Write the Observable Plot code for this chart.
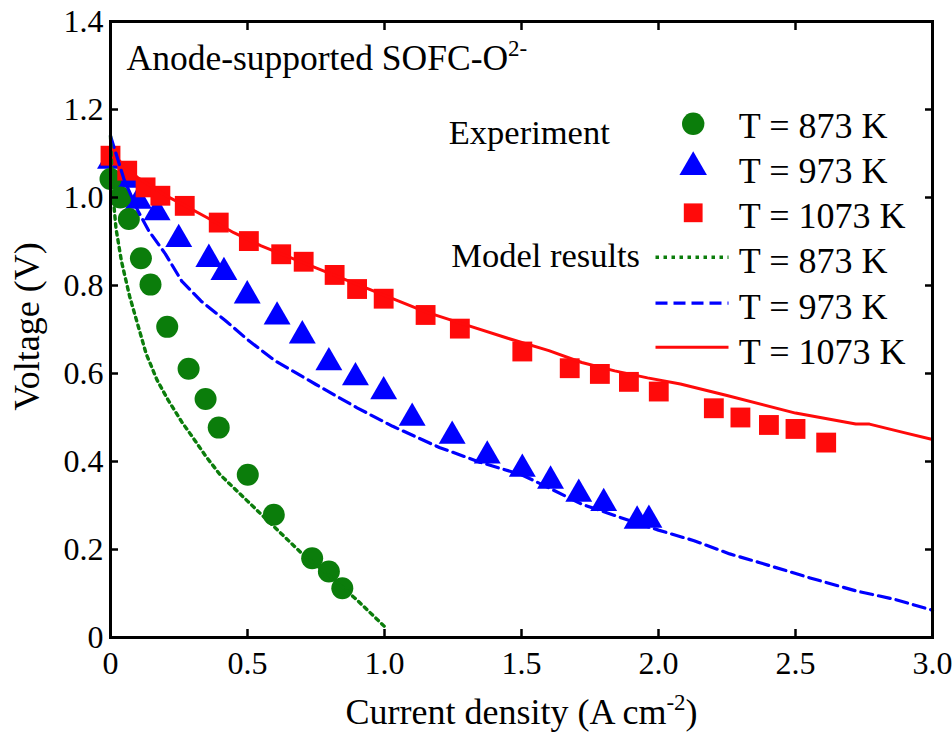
<!DOCTYPE html>
<html><head><meta charset="utf-8">
<script src="https://cdn.jsdelivr.net/npm/d3@7"></script>
<script src="https://cdn.jsdelivr.net/npm/@observablehq/plot@0.6"></script>
<style>body{margin:0;background:#fff}#chart{width:952px;height:736px}
#chart svg, #chart svg text{font-family:"Liberation Serif","Times New Roman",serif !important;}</style>
</head><body><div id="chart"></div>
<script>
// ---- data ----
const xTicks = [0, 0.5, 1.0, 1.5, 2.0, 2.5, 3.0];
const yTicks = [0, 0.2, 0.4, 0.6, 0.8, 1.0, 1.2, 1.4];
const tempLabels = ["T = 873 K", "T = 973 K", "T = 1073 K"];

// Experiment, T = 873 K
const exp873X = [0.0, 0.036, 0.067, 0.111, 0.146, 0.207, 0.285, 0.347, 0.395, 0.501, 0.596, 0.736, 0.797, 0.846];
const exp873Y = [1.042, 1.0, 0.951, 0.862, 0.802, 0.706, 0.611, 0.542, 0.477, 0.37, 0.279, 0.18, 0.15, 0.112];
// Experiment, T = 973 K
const exp973X = [0.0, 0.06, 0.102, 0.17, 0.249, 0.359, 0.414, 0.499, 0.608, 0.70, 0.797, 0.894, 0.997, 1.101, 1.247, 1.375, 1.503, 1.606, 1.709, 1.80, 1.922, 1.965];
const exp973Y = [1.083, 1.04, 0.992, 0.966, 0.905, 0.86, 0.83, 0.777, 0.729, 0.686, 0.625, 0.591, 0.559, 0.499, 0.458, 0.413, 0.383, 0.356, 0.326, 0.305, 0.265, 0.267];
// Experiment, T = 1073 K
const exp1073X = [0.0, 0.061, 0.128, 0.182, 0.271, 0.395, 0.505, 0.623, 0.705, 0.818, 0.90, 0.997, 1.15, 1.275, 1.503, 1.676, 1.786, 1.892, 2.001, 2.202, 2.299, 2.403, 2.50, 2.612];
const exp1073Y = [1.095, 1.061, 1.023, 1.004, 0.981, 0.943, 0.901, 0.871, 0.854, 0.824, 0.792, 0.770, 0.733, 0.702, 0.65, 0.612, 0.599, 0.581, 0.559, 0.521, 0.50, 0.483, 0.474, 0.443];

// Model results
const mod873X = [0, 0.005, 0.01, 0.02, 0.04, 0.07, 0.10, 0.13, 0.17, 0.21, 0.26, 0.30, 0.35, 0.40, 0.50, 0.60, 0.70, 0.80, 0.90, 1.0];
const mod873Y = [1.14, 1.06, 1.0, 0.93, 0.855, 0.775, 0.71, 0.645, 0.585, 0.54, 0.49, 0.455, 0.41, 0.37, 0.31, 0.25, 0.19, 0.14, 0.085, 0.025];
const mod973X = [0, 0.02, 0.05, 0.10, 0.14, 0.20, 0.26, 0.33, 0.42, 0.50, 0.60, 0.75, 0.90, 1.03, 1.20, 1.35, 1.50, 1.60, 1.72, 1.86, 2.0, 2.13, 2.26, 2.37, 2.55, 2.72, 2.86, 3.0];
const mod973Y = [1.14, 1.10, 1.04, 0.97, 0.924, 0.872, 0.81, 0.765, 0.72, 0.677, 0.629, 0.575, 0.522, 0.48, 0.432, 0.398, 0.37, 0.34, 0.303, 0.273, 0.244, 0.22, 0.19, 0.17, 0.136, 0.106, 0.087, 0.062];
const mod1073X = [0, 0.03, 0.06, 0.10, 0.15, 0.20, 0.27, 0.35, 0.45, 0.55, 0.65, 0.75, 0.85, 0.95, 1.05, 1.15, 1.30, 1.45, 1.60, 1.72, 1.84, 1.96, 2.08, 2.25, 2.50, 2.72, 2.77, 2.90, 3.0];
const mod1073Y = [1.11, 1.085, 1.065, 1.045, 1.025, 1.005, 0.982, 0.955, 0.92, 0.89, 0.865, 0.84, 0.815, 0.79, 0.765, 0.74, 0.71, 0.68, 0.652, 0.625, 0.606, 0.59, 0.576, 0.55, 0.51, 0.485, 0.485, 0.465, 0.45];

// ---- build ----
const zip = (xs, ys) => xs.map((x, i) => ({x, y: ys[i]}));
const GREEN = "#0b7d0b", BLUE = "#0000ff", RED = "#ff0a0a";
const FONT = "Liberation Serif";
const fmt = d => d === 0 ? "0" : d.toFixed(1);
const lineSym = {draw(ctx) { ctx.moveTo(-36.5, 0); ctx.lineTo(36.5, 0); }};
const one = [0];
const txt = (opts) => Object.assign({fontFamily: FONT, fill: "black", lineAnchor: "middle", textAnchor: "start"}, opts);
const leg = (opts) => Object.assign({frameAnchor: "top-left"}, opts);

const chart = Plot.plot({
  width: 952, height: 736,
  marginLeft: 110, marginRight: 20, marginTop: 21, marginBottom: 99,
  style: {background: "#fff"},
  x: {domain: [0, 3], label: null},
  y: {domain: [0, 1.4], label: null},
  marks: [
    // data markers
    Plot.dot(zip(exp973X, exp973Y), {x: "x", y: "y", symbol: "triangle", r: 10, fill: BLUE, stroke: "none"}),
    Plot.dot(zip(exp873X, exp873Y), {x: "x", y: "y", symbol: "circle", r: 11, fill: GREEN, stroke: "none"}),
    Plot.dot(zip(exp1073X, exp1073Y), {x: "x", y: "y", symbol: "square", r: 11.2, fill: RED, stroke: "none"}),
    // model lines
    Plot.line(zip(mod1073X, mod1073Y), {x: "x", y: "y", stroke: RED, strokeWidth: 3}),
    Plot.line(zip(mod973X, mod973Y), {x: "x", y: "y", stroke: BLUE, strokeWidth: 3.2, strokeDasharray: "12,6"}),
    Plot.line(zip(mod873X, mod873Y), {x: "x", y: "y", stroke: GREEN, strokeWidth: 3.4, strokeDasharray: "3.5,4.5"}),
    // frame and inward ticks
    Plot.frame({stroke: "black", strokeWidth: 3}),
    Plot.axisX({ticks: xTicks, anchor: "bottom", tickSize: -8, strokeWidth: 2.5, tickFormat: () => "", label: null}),
    Plot.axisX({ticks: xTicks, anchor: "top", tickSize: -8, strokeWidth: 2.5, tickFormat: () => "", label: null}),
    Plot.axisY({ticks: yTicks, anchor: "left", tickSize: -8, strokeWidth: 2.5, tickFormat: () => "", label: null}),
    Plot.axisY({ticks: yTicks, anchor: "right", tickSize: -8, strokeWidth: 2.5, tickFormat: () => "", label: null}),
    // tick labels
    Plot.axisX({ticks: xTicks, anchor: "bottom", tickSize: 0, tickPadding: 14, tickFormat: fmt, fontSize: 32, fontFamily: FONT, fill: "black", label: null}),
    Plot.axisY({ticks: yTicks, anchor: "left", tickSize: 0, tickPadding: 7, tickFormat: fmt, fontSize: 32, fontFamily: FONT, fill: "black", label: null}),
    // axis labels
    Plot.text(one, txt({frameAnchor: "bottom", dy: 74.5, textAnchor: "middle", text: () => "Current density (A cm^{-2})", fontSize: 36})),
    Plot.text(one, txt({frameAnchor: "left", dx: -83.5, dy: -3, rotate: -90, textAnchor: "middle", text: () => "Voltage (V)", fontSize: 36})),
    // title
    Plot.text(one, txt(leg({dx: 16, dy: 37.6, text: () => "Anode-supported SOFC-O^{2-}", fontSize: 35.5}))),
    // legend
    Plot.text(one, txt(leg({dx: 338.3, dy: 111.1, text: () => "Experiment", fontSize: 34.5}))),
    Plot.text(one, txt(leg({dx: 340.7, dy: 234.5, text: () => "Model results", fontSize: 34.5}))),
    Plot.dot(one, leg({dx: 582.7, dy: 102.3, symbol: "circle", r: 11.2, fill: GREEN, stroke: "none"})),
    Plot.dot(one, leg({dx: 582.7, dy: 145.6, symbol: "triangle", r: 10.2, fill: BLUE, stroke: "none"})),
    Plot.dot(one, leg({dx: 582.7, dy: 191.3, symbol: "square", r: 10.6, fill: RED, stroke: "none"})),
    Plot.dot(one, leg({dx: 581.5, dy: 235.7, symbol: lineSym, fill: "none", stroke: GREEN, strokeWidth: 3.4, strokeDasharray: "3.5,4.5"})),
    Plot.dot(one, leg({dx: 581.5, dy: 281.7, symbol: lineSym, fill: "none", stroke: BLUE, strokeWidth: 3.2, strokeDasharray: "12,6"})),
    Plot.dot(one, leg({dx: 581.5, dy: 325.7, symbol: lineSym, fill: "none", stroke: RED, strokeWidth: 3})),
    Plot.text(one, txt(leg({dx: 628.3, dy: 104.5, text: () => tempLabels[0], fontSize: 36}))),
    Plot.text(one, txt(leg({dx: 628.3, dy: 149.5, text: () => tempLabels[1], fontSize: 36}))),
    Plot.text(one, txt(leg({dx: 628.3, dy: 194.5, text: () => tempLabels[2], fontSize: 36}))),
    Plot.text(one, txt(leg({dx: 628.3, dy: 239.5, text: () => tempLabels[0], fontSize: 36}))),
    Plot.text(one, txt(leg({dx: 628.3, dy: 286.1, text: () => tempLabels[1], fontSize: 36}))),
    Plot.text(one, txt(leg({dx: 628.3, dy: 331.1, text: () => tempLabels[2], fontSize: 36})))
  ]
});

// superscripts: "^{...}" -> raised tspan
d3.select(chart).selectAll("text").each(function() {
  const t = this.textContent;
  const m = t.match(/^(.*)\^\{(.*?)\}(.*)$/);
  if (!m) return;
  const sel = d3.select(this);
  sel.text(null);
  sel.append("tspan").text(m[1]);
  sel.append("tspan").attr("dy", -14).attr("font-size", 23).text(m[2]);
  if (m[3]) sel.append("tspan").attr("dy", 14).text(m[3]);
});

document.getElementById("chart").appendChild(chart);
</script>
</body></html>
